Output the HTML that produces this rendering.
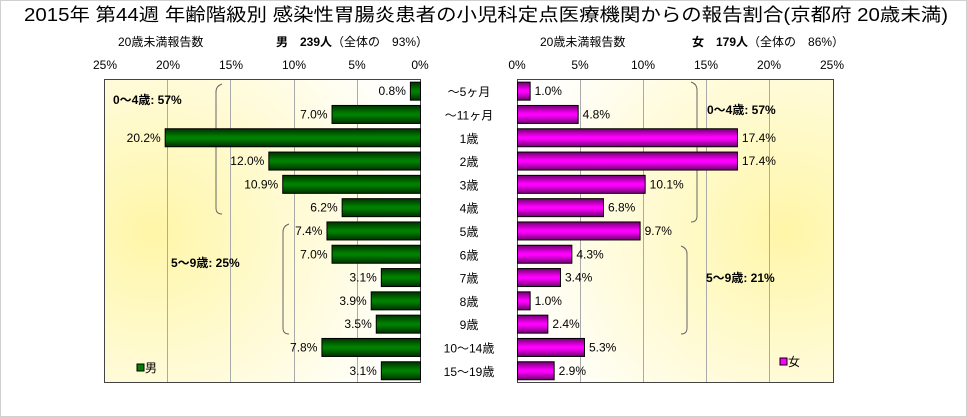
<!DOCTYPE html>
<html><head><meta charset="utf-8"><style>
body{margin:0;background:#fff}
svg{display:block;font-family:"Liberation Sans","Noto Sans CJK JP",sans-serif}
</style></head><body>
<svg width="967" height="417" viewBox="0 0 967 417">
<defs>
<linearGradient id="g" x1="0" y1="0" x2="0" y2="1">
<stop offset="0" stop-color="#003000"/><stop offset="0.45" stop-color="#008000"/><stop offset="0.55" stop-color="#008000"/><stop offset="1" stop-color="#003000"/></linearGradient>
<linearGradient id="m" x1="0" y1="0" x2="0" y2="1">
<stop offset="0" stop-color="#700070"/><stop offset="0.45" stop-color="#ff00ff"/><stop offset="0.55" stop-color="#ff00ff"/><stop offset="1" stop-color="#700070"/></linearGradient>
<radialGradient id="bgL" cx="0.15" cy="0.5" r="0.9"><stop offset="0" stop-color="#fff6a8"/><stop offset="1" stop-color="#ffffff"/></radialGradient>
<radialGradient id="bgR" cx="0.85" cy="0.5" r="0.9"><stop offset="0" stop-color="#fff6a8"/><stop offset="1" stop-color="#ffffff"/></radialGradient>
</defs>
<rect x="0.5" y="0.5" width="966" height="416" fill="#fff" stroke="#d0d0d0"/>
<text x="486" y="21" font-size="18" text-anchor="middle" textLength="924" lengthAdjust="spacingAndGlyphs">2015年 第44週 年齢階級別 感染性胃腸炎患者の小児科定点医療機関からの報告割合(京都府 20歳未満)</text>
<text x="118" y="46" font-size="12">20歳未満報告数</text>
<text x="276" y="46" font-size="12"><tspan font-weight="bold">男　239人</tspan>（全体の　93%）</text>
<text x="540" y="46" font-size="12">20歳未満報告数</text>
<text x="692" y="46" font-size="12"><tspan font-weight="bold">女　179人</tspan>（全体の　86%）</text>
<g font-size="12" text-anchor="middle">
<text x="105" y="69">25%</text><text x="168" y="69">20%</text><text x="231" y="69">15%</text><text x="294" y="69">10%</text><text x="357" y="69">5%</text><text x="420" y="69">0%</text>
<text x="517" y="69">0%</text><text x="580" y="69">5%</text><text x="643" y="69">10%</text><text x="706" y="69">15%</text><text x="769" y="69">20%</text><text x="832" y="69">25%</text>
</g>
<rect x="104.5" y="79.5" width="316" height="303" fill="url(#bgL)" stroke="#444"/>
<rect x="517.5" y="79.5" width="316" height="303" fill="url(#bgR)" stroke="#444"/>
<g stroke="#aaa">
<line x1="167.5" y1="80" x2="167.5" y2="382"/><line x1="230.5" y1="80" x2="230.5" y2="382"/><line x1="294.5" y1="80" x2="294.5" y2="382"/><line x1="357.5" y1="80" x2="357.5" y2="382"/>
<line x1="580.5" y1="80" x2="580.5" y2="382"/><line x1="643.5" y1="80" x2="643.5" y2="382"/><line x1="706.5" y1="80" x2="706.5" y2="382"/><line x1="769.5" y1="80" x2="769.5" y2="382"/>
</g>
<g fill="none" stroke="#666" stroke-width="1">
<path d="M222 84 Q216 86 216 92 L216 208 Q216 214 222 214"/>
<path d="M289 224 Q283 226 283 232 L283 328 Q283 334 289 334"/>
<path d="M691 82 Q697 84 697 90 L697 216 Q697 222 691 222"/>
<path d="M681 246 Q687 248 687 254 L687 328 Q687 334 681 334"/>
</g>
<g font-size="12" font-weight="bold">
<text x="113" y="104">0～4歳: 57%</text>
<text x="171" y="267">5～9歳: 25%</text>
<text x="707" y="114">0～4歳: 57%</text>
<text x="706" y="282">5～9歳: 21%</text>
</g>
<g font-size="12">
<rect x="137" y="364" width="7" height="7" fill="#008000" stroke="#000"/><text x="145" y="372">男</text>
<rect x="780" y="358" width="7" height="7" fill="#ff00ff" stroke="#000"/><text x="788" y="366">女</text>
</g>
<g id="bars" font-size="12"></g>
</svg>
<script>
var cats=["～5ヶ月","～11ヶ月","1歳","2歳","3歳","4歳","5歳","6歳","7歳","8歳","9歳","10～14歳","15～19歳"];
var M=[0.8,7.0,20.2,12.0,10.9,6.2,7.4,7.0,3.1,3.9,3.5,7.8,3.1];
var F=[1.0,4.8,17.4,17.4,10.1,6.8,9.7,4.3,3.4,1.0,2.4,5.3,2.9];
var s="",k=12.64;
for(var i=0;i<13;i++){var c=79.5+23.3*(i+0.5);var w=M[i]*k,f=F[i]*k;
s+='<rect x="'+(420.5-w)+'" y="'+(c-9)+'" width="'+w+'" height="18" fill="url(#g)" stroke="#000"/>';
s+='<text x="'+(416-w)+'" y="'+(c+4)+'" text-anchor="end">'+M[i].toFixed(1)+'%</text>';
s+='<rect x="517.5" y="'+(c-9)+'" width="'+f+'" height="18" fill="url(#m)" stroke="#000"/>';
s+='<text x="'+(522+f)+'" y="'+(c+4)+'">'+F[i].toFixed(1)+'%</text>';
s+='<text x="469" y="'+(c+5)+'" text-anchor="middle">'+cats[i]+'</text>';}
document.getElementById("bars").innerHTML=s;
</script>
</body></html>
